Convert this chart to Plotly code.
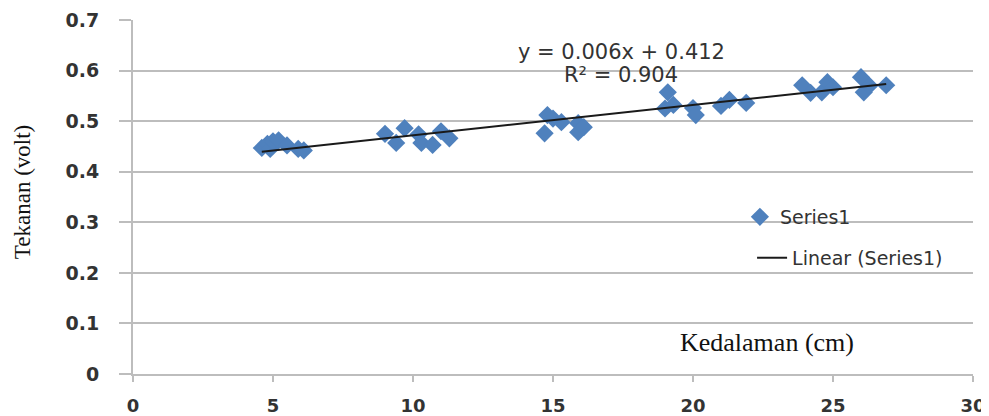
import plotly.graph_objects as go

# Data
depth_cm = [4.6, 4.8, 4.9, 5.0, 5.2, 5.5, 5.9, 6.1,
            9.0, 9.4, 9.7, 10.2, 10.3, 10.7, 11.0, 11.3,
            14.7, 14.8, 15.0, 15.3, 15.9, 15.9, 16.1,
            19.0, 19.1, 19.3, 20.0, 20.1, 21.0, 21.3, 21.9,
            23.9, 24.2, 24.6, 24.8, 25.0, 26.0, 26.1, 26.3, 26.9]
voltage = [0.447, 0.455, 0.445, 0.460, 0.462, 0.452, 0.445, 0.442,
           0.475, 0.457, 0.486, 0.474, 0.457, 0.453, 0.480, 0.466,
           0.476, 0.512, 0.505, 0.498, 0.496, 0.478, 0.488,
           0.525, 0.557, 0.532, 0.526, 0.512, 0.530, 0.542, 0.536,
           0.571, 0.556, 0.557, 0.577, 0.567, 0.587, 0.557, 0.570, 0.571]

trend_slope = 0.006
trend_intercept = 0.412
equation_text = "y = 0.006x + 0.412"
r2_text = "R² = 0.904"

x_ticks = [0, 5, 10, 15, 20, 25, 30]
y_ticks = [0, 0.1, 0.2, 0.3, 0.4, 0.5, 0.6, 0.7]
y_tick_labels = ["0", "0.1", "0.2", "0.3", "0.4", "0.5", "0.6", "0.7"]

x_min, x_max = min(depth_cm), max(depth_cm)
trend_x = [x_min, x_max]
trend_y = [trend_slope * v + trend_intercept for v in trend_x]

BLUE = "#4F81BD"
GRID = "#BDBDBD"
TXT = "#333333"

fig = go.Figure()
fig.add_trace(go.Scatter(
    x=depth_cm, y=voltage, mode="markers", name="Series1",
    marker=dict(symbol="diamond", size=14, color=BLUE, line=dict(width=0)),
    legend="legend", showlegend=True,
))
fig.add_trace(go.Scatter(
    x=trend_x, y=trend_y, mode="lines", name="Linear (Series1)",
    line=dict(color="#1a1a1a", width=2),
    legend="legend2", showlegend=True,
))

fig.update_layout(
    width=981, height=408,
    margin=dict(l=125, r=16, t=12, b=42, autoexpand=False),
    showlegend=True,
    paper_bgcolor="white", plot_bgcolor="white",
    font=dict(family="DejaVu Sans", color=TXT),
    legend=dict(x=0.7225, y=0.4435, xanchor="left", yanchor="middle",
                bgcolor="rgba(0,0,0,0)", font=dict(size=19, color=TXT)),
    legend2=dict(x=0.737, y=0.328, xanchor="left", yanchor="middle",
                 bgcolor="rgba(0,0,0,0)", font=dict(size=19, color=TXT)),
    xaxis=dict(range=[0, 30], tickvals=x_ticks, showgrid=False, zeroline=False,
               showline=True, linecolor=GRID, linewidth=2, automargin=False,
               ticks="outside", ticklen=6, tickwidth=2, tickcolor=GRID,
               tickfont=dict(family="DejaVu Sans", size=18, color=TXT, weight="bold"),
               ticklabelstandoff=8),
    yaxis=dict(range=[0, 0.7], tickvals=y_ticks, ticktext=y_tick_labels,
               showgrid=True, gridcolor=GRID, gridwidth=2, zeroline=False,
               showline=True, linecolor=GRID, linewidth=2, automargin=False,
               ticks="outside", ticklen=12, tickwidth=2, tickcolor=GRID,
               tickfont=dict(family="DejaVu Sans", size=19, color=TXT, weight="bold"),
               ticklabelstandoff=16),
    annotations=[
        dict(text=equation_text, x=0.581, y=0.91, xref="paper", yref="paper",
             showarrow=False, xanchor="center", yanchor="middle",
             font=dict(family="DejaVu Sans", size=21, color=TXT)),
        dict(text=r2_text, x=0.581, y=0.845, xref="paper", yref="paper",
             showarrow=False, xanchor="center", yanchor="middle",
             font=dict(family="DejaVu Sans", size=21, color=TXT)),
        dict(text="Kedalaman (cm)", x=0.755, y=0.0876, xref="paper", yref="paper",
             showarrow=False, xanchor="center", yanchor="middle",
             font=dict(family="Liberation Serif", size=26, color="#111111")),
        dict(text="Tekanan (volt)", x=-0.132, y=0.514, xref="paper", yref="paper",
             showarrow=False, xanchor="center", yanchor="middle", textangle=-90,
             font=dict(family="Liberation Serif", size=23, color="#111111")),
    ],
)

fig.write_html("out.html")
